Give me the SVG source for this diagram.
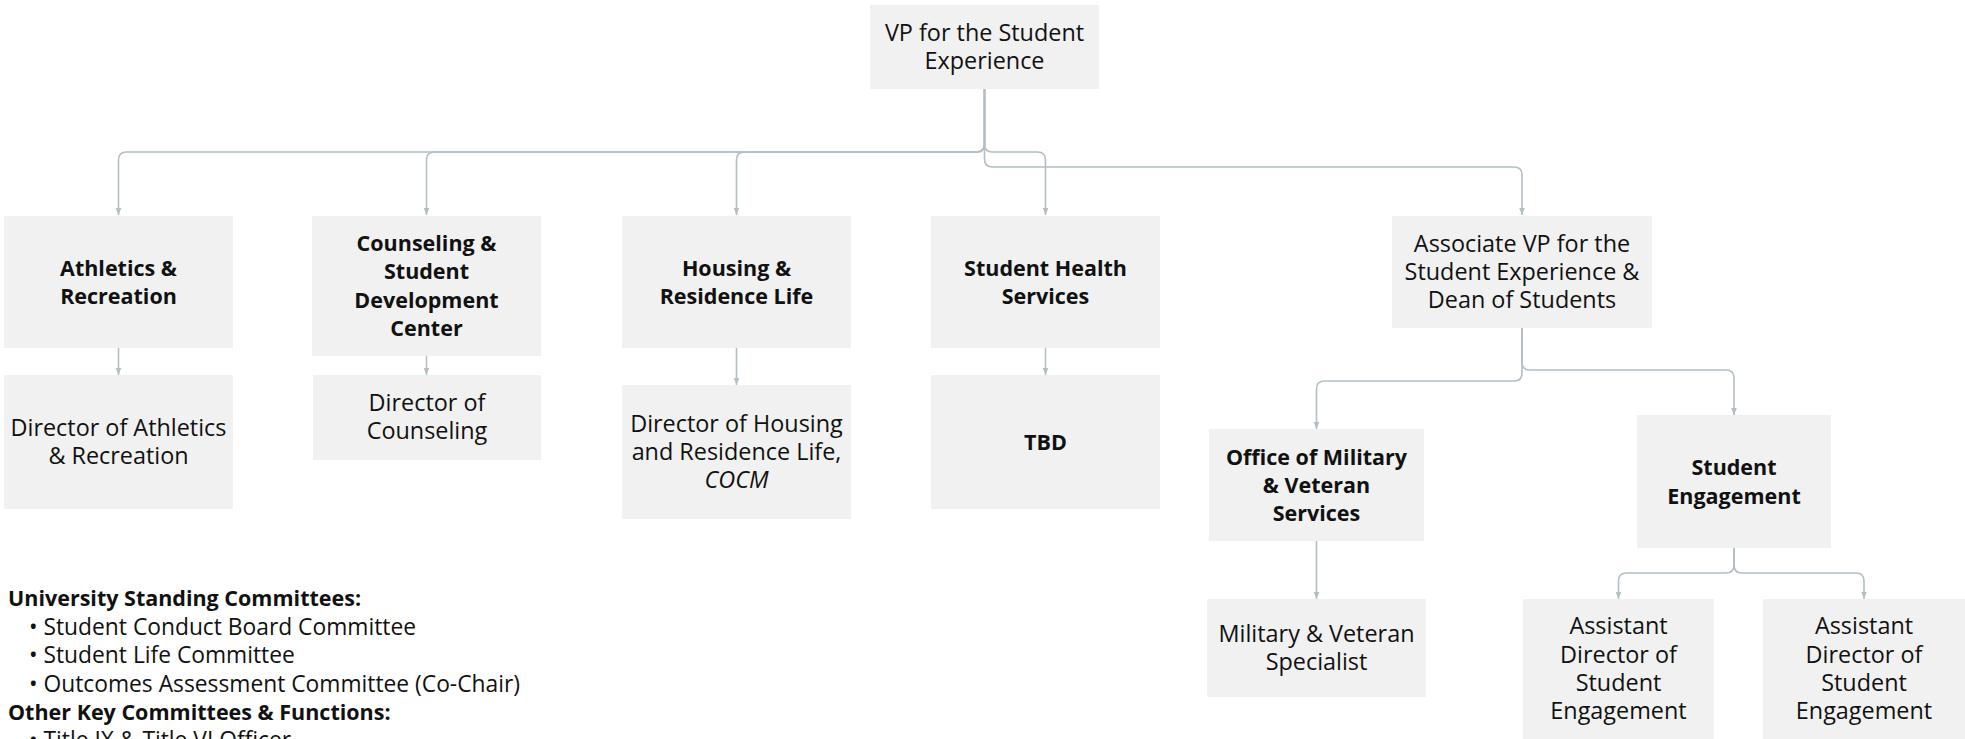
<svg xmlns="http://www.w3.org/2000/svg" width="1965" height="739" viewBox="0 0 1965 739">
<defs>
<style>
.box{fill:#f0f1f0}
.t{font-family:"Open Sans","Noto Sans","Liberation Sans",sans-serif;font-size:23.4px;fill:#111;text-anchor:middle}
.b{font-weight:bold;font-size:21.5px}
.i{font-style:italic}
.l{font-family:"Open Sans","Noto Sans","Liberation Sans",sans-serif;font-size:22.8px;fill:#111}
.lb{font-weight:bold;font-size:21.5px}
.c{fill:none;stroke:#b3bec5;stroke-width:1.6}
</style>
<marker id="ah" viewBox="0 0 8 8" refX="8" refY="4" markerWidth="7" markerHeight="7" markerUnits="userSpaceOnUse" orient="auto">
<path d="M0,0.8 L8,4 L0,7.2 z" fill="#b3bec5"/>
</marker>
</defs>
<rect width="1965" height="739" fill="#ffffff"/>
<g id="connectors">
<path class="c" marker-end="url(#ah)" d="M984.5,89 V144 Q984.5,152 976.5,152 H126.5 Q118.5,152 118.5,160 V215"/>
<path class="c" marker-end="url(#ah)" d="M984.5,89 V144 Q984.5,152 976.5,152 H434.5 Q426.5,152 426.5,160 V215"/>
<path class="c" marker-end="url(#ah)" d="M984.5,89 V144 Q984.5,152 976.5,152 H744.5 Q736.5,152 736.5,160 V215"/>
<path class="c" marker-end="url(#ah)" d="M984.5,89 V144 Q984.5,152 992.5,152 H1037.5 Q1045.5,152 1045.5,160 V215"/>
<path class="c" marker-end="url(#ah)" d="M984.5,89 V159 Q984.5,167 992.5,167 H1514 Q1522,167 1522,175 V215"/>
<path class="c" marker-end="url(#ah)" d="M118.5,348 V375"/>
<path class="c" marker-end="url(#ah)" d="M426.5,356 V375"/>
<path class="c" marker-end="url(#ah)" d="M736.5,348 V385"/>
<path class="c" marker-end="url(#ah)" d="M1045.5,348 V375"/>
<path class="c" marker-end="url(#ah)" d="M1522,328 V373 Q1522,381 1514,381 H1324.5 Q1316.5,381 1316.5,389 V429"/>
<path class="c" marker-end="url(#ah)" d="M1522,328 V362 Q1522,370 1530,370 H1726 Q1734,370 1734,378 V415"/>
<path class="c" marker-end="url(#ah)" d="M1316.5,541 V599"/>
<path class="c" marker-end="url(#ah)" d="M1734,548 V565 Q1734,573 1726,573 H1626.5 Q1618.5,573 1618.5,581 V599"/>
<path class="c" marker-end="url(#ah)" d="M1734,548 V565 Q1734,573 1742,573 H1856 Q1864,573 1864,581 V599"/>
</g>
<g id="vp"><rect class="box" x="870" y="5" width="229" height="84"/><text class="t" x="984.5" y="40.8">VP for the Student</text><text class="t" x="984.5" y="69.1">Experience</text></g>
<g id="athletics"><rect class="box" x="4" y="216" width="229" height="132"/><text class="t b" x="118.5" y="276">Athletics &amp;</text><text class="t b" x="118.5" y="304.3">Recreation</text></g>
<g id="counseling"><rect class="box" x="312" y="216" width="229" height="140"/><text class="t b" x="426.5" y="251">Counseling &amp;</text><text class="t b" x="426.5" y="279.3">Student</text><text class="t b" x="426.5" y="307.6">Development</text><text class="t b" x="426.5" y="335.9">Center</text></g>
<g id="housing"><rect class="box" x="622" y="216" width="229" height="132"/><text class="t b" x="736.5" y="276">Housing &amp;</text><text class="t b" x="736.5" y="304.3">Residence Life</text></g>
<g id="health"><rect class="box" x="931" y="216" width="229" height="132"/><text class="t b" x="1045.5" y="276">Student Health</text><text class="t b" x="1045.5" y="304.3">Services</text></g>
<g id="assocvp"><rect class="box" x="1392" y="216" width="260" height="112"/><text class="t" x="1522" y="251.7">Associate VP for the</text><text class="t" x="1522" y="280">Student Experience &amp;</text><text class="t" x="1522" y="308.3">Dean of Students</text></g>
<g id="dir-athletics"><rect class="box" x="4" y="375" width="229" height="134"/><text class="t" x="118.5" y="436">Director of Athletics</text><text class="t" x="118.5" y="464.3">&amp; Recreation</text></g>
<g id="dir-counseling"><rect class="box" x="313" y="375" width="228" height="85"/><text class="t" x="427" y="411">Director of</text><text class="t" x="427" y="439.3">Counseling</text></g>
<g id="dir-housing"><rect class="box" x="622" y="385" width="229" height="134"/><text class="t" x="736.5" y="431.7">Director of Housing</text><text class="t" x="736.5" y="460">and Residence Life,</text><text class="t i" x="736.5" y="488.3">COCM</text></g>
<g id="tbd"><rect class="box" x="931" y="375" width="229" height="134"/><text class="t b" x="1045.5" y="450">TBD</text></g>
<g id="military"><rect class="box" x="1209" y="429" width="215" height="112"/><text class="t b" x="1316.5" y="464.7">Office of Military</text><text class="t b" x="1316.5" y="493">&amp; Veteran</text><text class="t b" x="1316.5" y="521.3">Services</text></g>
<g id="engagement"><rect class="box" x="1637" y="415" width="194" height="133"/><text class="t b" x="1734" y="475.3">Student</text><text class="t b" x="1734" y="503.6">Engagement</text></g>
<g id="specialist"><rect class="box" x="1207" y="599" width="219" height="98"/><text class="t" x="1316.5" y="641.8">Military &amp; Veteran</text><text class="t" x="1316.5" y="670.1">Specialist</text></g>
<g id="asst1"><rect class="box" x="1523" y="599" width="191" height="140"/><text class="t" x="1618.5" y="634.3">Assistant</text><text class="t" x="1618.5" y="662.6">Director of</text><text class="t" x="1618.5" y="690.9">Student</text><text class="t" x="1618.5" y="719.2">Engagement</text></g>
<g id="asst2"><rect class="box" x="1763" y="599" width="202" height="140"/><text class="t" x="1864" y="634.3">Assistant</text><text class="t" x="1864" y="662.6">Director of</text><text class="t" x="1864" y="690.9">Student</text><text class="t" x="1864" y="719.2">Engagement</text></g>
<g id="legend">
<text class="l lb" x="8" y="606">University Standing Committees:</text>
<text class="l" x="29" y="635">• Student Conduct Board Committee</text>
<text class="l" x="29" y="663.3">• Student Life Committee</text>
<text class="l" x="29" y="691.6">• Outcomes Assessment Committee (Co-Chair)</text>
<text class="l lb" x="8" y="719.9">Other Key Committees &amp; Functions:</text>
<text class="l" x="29" y="748.2">• Title IX &amp; Title VI Officer</text>
</g>
</svg>
